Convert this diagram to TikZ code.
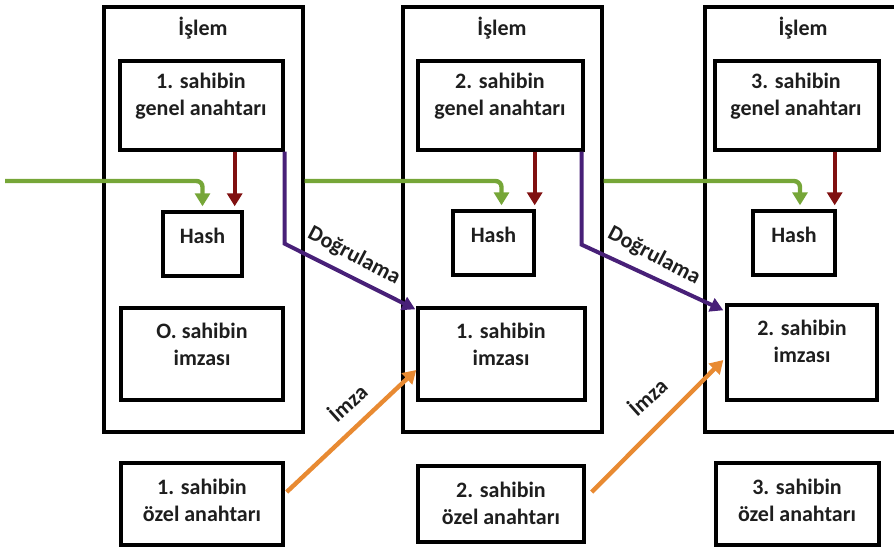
\documentclass[tikz,border=0pt]{standalone}
\usepackage{fontspec}
\setmainfont{Carlito}
\usetikzlibrary{arrows.meta,fit}
\definecolor{grn}{RGB}{118,166,56}
\definecolor{dred}{RGB}{128,16,16}
\definecolor{purp}{RGB}{72,32,120}
\definecolor{orng}{RGB}{232,138,50}
\definecolor{txt}{RGB}{30,30,30}
\begin{document}
\begin{tikzpicture}[x=0.5pt,y=-0.5pt,
  box/.style={draw=black,line width=1.7pt,inner sep=0pt},
  lbl/.style={font=\bfseries\fontsize{11}{13.5}\selectfont,text=txt,align=center,inner sep=0pt},
  arr/.style={line width=2.2pt,-{Triangle[width=7.5pt,length=6.5pt]}},
  parr/.style={line width=2pt,-{Triangle[width=7pt,length=6.5pt]}}]
\useasboundingbox (0,0) rectangle (894,547);
\clip (0,0) rectangle (894,547);
% outer transaction boxes
\node[box,fit={(104,7)(303,432)}] (tx1) {};
\node[box,fit={(403,7)(602,432)}] (tx2) {};
\node[box,fit={(705,7)(900,432)}] (tx3) {};
% inner boxes
\node[box,fit={(120,61)(283,150)}] (genel1) {};
\node[box,fit={(418,61)(583,150)}] (genel2) {};
\node[box,fit={(715,61)(879,150)}] (genel3) {};
\node[box,fit={(163,212)(242,276)}] (hash1) {};
\node[box,fit={(453,211)(534,275)}] (hash2) {};
\node[box,fit={(753,211)(835,275)}] (hash3) {};
\node[box,fit={(121,308)(283,400)}] (imza1) {};
\node[box,fit={(418,308)(585,400)}] (imza2) {};
\node[box,fit={(727,305)(877,400)}] (imza3) {};
\node[box,fit={(121,463)(283,545)}] (ozel1) {};
\node[box,fit={(418,466)(584,542)}] (ozel2) {};
\node[box,fit={(716,463)(879,545)}] (ozel3) {};
% texts
\node[lbl] (t1) at (203,28) {İşlem};
\node[lbl] (t2) at (502,28) {İşlem};
\node[lbl] (t3) at (803,28) {İşlem};
\node[lbl] (g1) at (201,96) {1. sahibin\\genel anahtarı};
\node[lbl] (g2) at (500,96) {2. sahibin\\genel anahtarı};
\node[lbl] (g3) at (796,96) {3. sahibin\\genel anahtarı};
\node[lbl] (h1) at (202.5,236) {Hash};
\node[lbl] (h2) at (493.5,235) {Hash};
\node[lbl] (h3) at (794,235) {Hash};
\node[lbl] (i1) at (202,344) {O. sahibin\\imzası};
\node[lbl] (i2) at (501,344) {1. sahibin\\imzası};
\node[lbl] (i3) at (802,341) {2. sahibin\\imzası};
\node[lbl] (o1) at (202,500) {1. sahibin\\özel anahtarı};
\node[lbl] (o2) at (501,503) {2. sahibin\\özel anahtarı};
\node[lbl] (o3) at (797,500) {3. sahibin\\özel anahtarı};
% green hash-chain arrows
\coordinate (gs1) at (5,181);
\draw[arr,grn,rounded corners=3pt] (gs1) -| ([yshift=2pt]hash1.north);
\draw[arr,grn,rounded corners=3pt] (tx1.east |- gs1) -| ([xshift=4pt,yshift=2pt]hash2.north);
\draw[arr,grn,rounded corners=3pt] (tx2.east |- gs1) -| ([xshift=3pt,yshift=2pt]hash3.north);
% red arrows
\draw[arr,dred] ([xshift=-4.5pt]hash1.north east |- genel1.south) -- ([xshift=-4.5pt,yshift=2pt]hash1.north east);
\draw[arr,dred] ([xshift=-0.5pt]hash2.north east |- genel2.south) -- ([xshift=-0.5pt,yshift=2pt]hash2.north east);
\draw[arr,dred] ([xshift=-1pt]hash3.north east |- genel3.south) -- ([xshift=-1pt,yshift=2pt]hash3.north east);
% purple verification arrows
\draw[parr,purp] (genel1.south east) -- ++(0,92) -- ([xshift=-0.5pt,yshift=-1.5pt]imza2.north west);
\draw[parr,purp] ([xshift=-1.5pt]genel2.south east) -- ++(0,93) -- ([xshift=-1pt,yshift=-3.5pt]imza3.north west);
\node[lbl,rotate=-27.5] (d1) at (354,256) {Doğrulama};
\node[lbl,rotate=-27.5] (d2) at (654,256) {Doğrulama};
% orange signing arrows
\draw[arr,orng] ([xshift=1pt,yshift=6pt]ozel1.east) -- ([yshift=-8pt]imza2.west);
\draw[arr,orng] ([xshift=3pt,yshift=6pt]ozel2.east) -- ([xshift=-1pt,yshift=-3.75pt]imza3.west);
\node[lbl,rotate=42] (m1) at (347,402) {İmza};
\node[lbl,rotate=42] (m2) at (647,396) {İmza};
\end{tikzpicture}
\end{document}
